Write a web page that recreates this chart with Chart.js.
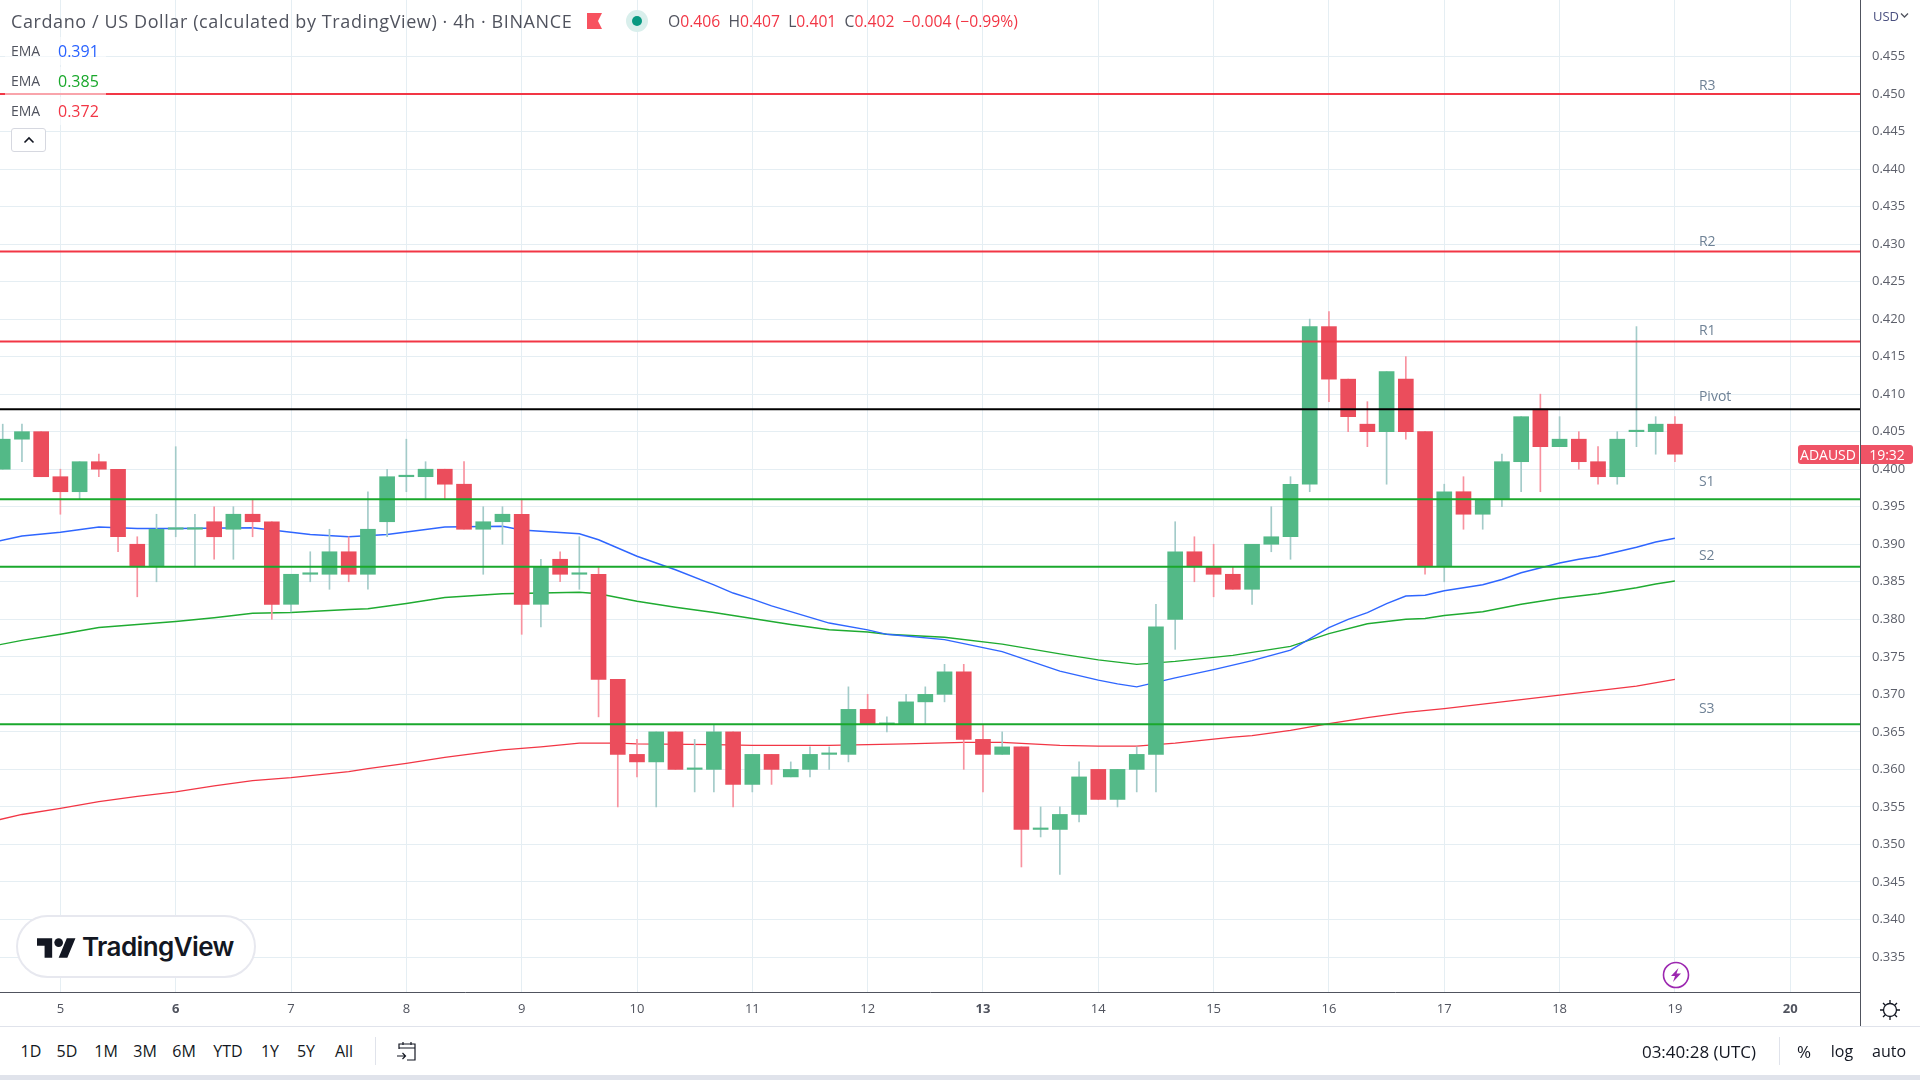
<!DOCTYPE HTML>
<html>
<head>
    <title>Cardano / US Dollar - 4h</title>
    <meta charset="utf-8" />
    <script src="https://cdn.jsdelivr.net/npm/chart.js"></script>
    <style>
        html, body { margin: 0; padding: 0; background: #fff; }
        body { width: 1920px; height: 1080px; position: relative; overflow: hidden; font-family: "Open Sans", sans-serif; color: #131722; }
        #grafico { position: absolute; left: 0; top: 0; }
        .txt { position: absolute; white-space: nowrap; line-height: 1; }
        .c { transform: translate(-50%, -50%); }
        .m { transform: translateY(-50%); }
        .rojo { color: #f23645; }
        .gris { color: #50535e; }
        .fila { position: absolute; left: 5px; width: 101px; height: 28px; background: rgba(255,255,255,0.55); }
    </style>
</head>
<body>
    <canvas id="grafico" width="1920" height="1026"></canvas>

    <!-- Header -->
    <div class="txt m gris" style="left:11px;top:21px;font-size:18px;letter-spacing:0.6px;">Cardano / US Dollar (calculated by TradingView) · 4h · BINANCE</div>
    <svg style="position:absolute;left:587px;top:13px" width="15" height="16"><path d="M0 0H15L11 8L15 16H0Z" fill="#f7525f"/></svg>
    <svg style="position:absolute;left:626px;top:10px" width="22" height="22"><circle cx="11" cy="11" r="11" fill="#d9efec"/><circle cx="11" cy="11" r="5" fill="#089981"/></svg>
    <div class="txt m" style="left:668px;top:22px;font-size:15.7px;">
        <span class="gris">O</span><span class="rojo">0.406</span>&nbsp;
        <span class="gris">H</span><span class="rojo">0.407</span>&nbsp;
        <span class="gris">L</span><span class="rojo">0.401</span>&nbsp;
        <span class="gris">C</span><span class="rojo">0.402</span>&nbsp;
        <span class="rojo">−0.004 (−0.99%)</span>
    </div>

    <!-- EMA legend -->
    <div class="fila" style="top:37px"></div>
    <div class="fila" style="top:67px"></div>
    <div class="fila" style="top:97px"></div>
    <div class="txt m gris" style="left:11px;top:51px;font-size:14px;">EMA</div>
    <div class="txt m" style="left:58px;top:51px;font-size:16px;color:#2962ff;">0.391</div>
    <div class="txt m gris" style="left:11px;top:81px;font-size:14px;">EMA</div>
    <div class="txt m" style="left:58px;top:81px;font-size:16px;color:#1aa82c;">0.385</div>
    <div class="txt m gris" style="left:11px;top:111px;font-size:14px;">EMA</div>
    <div class="txt m rojo" style="left:58px;top:111px;font-size:16px;">0.372</div>
    <div style="position:absolute;left:11px;top:128px;width:35px;height:24px;background:#fff;border:1px solid #d6d8e0;border-radius:3px;box-sizing:border-box;"></div>
    <svg style="position:absolute;left:23px;top:136px" width="12" height="8"><path d="M1.5 6.5L6 2L10.5 6.5" fill="none" stroke="#131722" stroke-width="1.6"/></svg>

    <!-- Currency -->
    <div class="txt m" style="left:1873px;top:16px;font-size:13px;color:#4a5080;">USD</div>
    <svg style="position:absolute;left:1900px;top:12px" width="9" height="7"><path d="M1 1.5L4.5 5L8 1.5" fill="none" stroke="#50535e" stroke-width="1.3"/></svg>

    <!-- Price label -->
    <div style="position:absolute;left:1798px;top:445px;width:61px;height:19px;background:#ef5366;border-radius:3px 0 0 3px;"></div>
    <div style="position:absolute;left:1860px;top:445px;width:53px;height:19px;background:#ef5366;border-radius:0 3px 3px 0;"></div>
    <div class="txt c" style="left:1828px;top:455px;font-size:14px;color:#fff;">ADAUSD</div>
    <div class="txt c" style="left:1887px;top:455px;font-size:14px;color:#fff;">19:32</div>

    <!-- Lightning -->
    <svg style="position:absolute;left:1662px;top:961px" width="28" height="28">
        <circle cx="14" cy="14" r="12.5" fill="#fff" stroke="#9c27b0" stroke-width="1.6"/>
        <path d="M16.5 7L9 15H13L11 21L19 12.5H14.5Z" fill="#9c27b0"/>
    </svg>

    <!-- TradingView logo -->
    <div style="position:absolute;left:16px;top:915px;width:240px;height:63px;background:#fff;border:2px solid #e7e8ef;border-radius:32px;box-sizing:border-box;"></div>
    <svg style="position:absolute;left:37px;top:938px" width="39" height="20" viewBox="0 4 36 18"><path d="M14 22H7V11H0V4h14v18zM28 22h-8l7.5-18h8L28 22z" fill="#131722"/><circle cx="20" cy="8" r="4" fill="#131722"/></svg>
    <div class="txt m" style="left:82px;top:947px;font-family:Inter,sans-serif;font-weight:600;font-size:26px;letter-spacing:-0.6px;color:#131722;">TradingView</div>

    <!-- Axis frame extras -->
    <div style="position:absolute;left:1860px;top:0;width:1px;height:1026px;background:#50535e;"></div>
    <svg style="position:absolute;left:1878px;top:998px" width="24" height="24"><circle cx="12" cy="12" r="6.5" fill="none" stroke="#131722" stroke-width="1.3"/><path d="M12 2v3M12 19v3M2 12h3M19 12h3M5 5l2.3 2.3M19 5l-2.3 2.3M5 19l2.3-2.3M19 19l-2.3-2.3" stroke="#131722" stroke-width="1.3"/></svg>

    <!-- Bottom toolbar -->
    <div style="position:absolute;left:0;top:1026px;width:1920px;height:1px;background:#e0e3eb;"></div>
    <div class="txt c" style="left:31px;top:1051px;font-size:16px;">1D</div>
    <div class="txt c" style="left:67px;top:1051px;font-size:16px;">5D</div>
    <div class="txt c" style="left:106px;top:1051px;font-size:16px;">1M</div>
    <div class="txt c" style="left:145px;top:1051px;font-size:16px;">3M</div>
    <div class="txt c" style="left:184px;top:1051px;font-size:16px;">6M</div>
    <div class="txt c" style="left:228px;top:1051px;font-size:16px;">YTD</div>
    <div class="txt c" style="left:270px;top:1051px;font-size:16px;">1Y</div>
    <div class="txt c" style="left:306px;top:1051px;font-size:16px;">5Y</div>
    <div class="txt c" style="left:344px;top:1051px;font-size:16px;">All</div>
    <div style="position:absolute;left:375px;top:1037px;width:1px;height:28px;background:#e0e3eb;"></div>
    <svg style="position:absolute;left:396px;top:1040px" width="22" height="22"><path d="M3 9V4H19V20H11M3 8H19M7 2V5M15 2V5M1 16H9M6.5 13L9.5 16L6.5 19" fill="none" stroke="#131722" stroke-width="1.2"/></svg>
    <div class="txt c" style="left:1699px;top:1051px;font-size:17px;">03:40:28 (UTC)</div>
    <div style="position:absolute;left:1779px;top:1037px;width:1px;height:28px;background:#e0e3eb;"></div>
    <div class="txt c" style="left:1804px;top:1051px;font-size:17px;">%</div>
    <div class="txt c" style="left:1842px;top:1051px;font-size:16px;">log</div>
    <div class="txt c" style="left:1889px;top:1051px;font-size:16px;">auto</div>
    <div style="position:absolute;left:0;top:1075px;width:1920px;height:5px;background:#e0e3eb;"></div>

    <script>
        // Barras de 4h, 0 = dia 5 a las 00:00
        const bars = [-3,-2,-1,0,1,2,3,4,5,6,7,8,9,10,11,12,13,14,15,16,17,18,19,20,21,22,23,24,25,26,27,28,29,30,31,32,33,34,35,36,37,38,39,40,41,42,43,44,45,46,47,48,49,50,51,52,53,54,55,56,57,58,59,60,61,62,63,64,65,66,67,68,69,70,71,72,73,74,75,76,77,78,79,80,81,82,83,84];
        const opens = [.400,.404,.405,.399,.397,.401,.400,.390,.387,.392,.392,.393,.392,.394,.393,.382,.386,.386,.389,.386,.393,.399,.399,.400,.398,.392,.393,.394,.382,.388,.386,.386,.372,.362,.361,.365,.360,.360,.365,.358,.362,.359,.360,.362,.362,.368,.366,.366,.369,.370,.373,.364,.362,.363,.352,.352,.354,.360,.356,.360,.362,.380,.389,.387,.386,.384,.390,.391,.398,.419,.412,.406,.405,.412,.405,.387,.397,.394,.396,.401,.408,.403,.404,.401,.399,.405,.405,.406];
        const highs = [.406,.406,.405,.400,.401,.402,.400,.391,.394,.403,.394,.395,.395,.396,.393,.386,.389,.392,.391,.397,.400,.404,.401,.400,.401,.395,.395,.396,.388,.389,.391,.387,.372,.364,.365,.365,.364,.366,.365,.362,.362,.361,.363,.363,.371,.370,.367,.370,.371,.374,.374,.366,.365,.363,.355,.355,.361,.360,.360,.363,.382,.393,.391,.390,.387,.390,.395,.399,.420,.421,.412,.409,.413,.415,.405,.398,.399,.396,.402,.407,.410,.407,.405,.403,.405,.419,.407,.407];
        const lows = [.400,.401,.399,.394,.396,.399,.389,.383,.385,.391,.387,.388,.388,.391,.380,.381,.385,.384,.385,.384,.391,.397,.396,.396,.392,.386,.390,.378,.379,.385,.384,.367,.355,.359,.355,.360,.357,.357,.355,.357,.358,.359,.359,.360,.361,.366,.365,.366,.366,.369,.360,.357,.362,.347,.351,.346,.353,.356,.355,.357,.357,.376,.385,.383,.384,.382,.389,.388,.397,.409,.405,.403,.398,.404,.386,.385,.392,.392,.395,.397,.397,.403,.400,.398,.398,.403,.402,.401];
        const closes = [.404,.405,.399,.397,.401,.400,.391,.387,.392,.392,.392,.391,.394,.393,.382,.386,.386,.389,.386,.392,.399,.399,.400,.398,.392,.393,.394,.382,.387,.386,.386,.372,.362,.361,.365,.360,.360,.365,.358,.362,.360,.360,.362,.362,.368,.366,.366,.369,.370,.373,.364,.362,.363,.352,.352,.354,.359,.356,.360,.362,.379,.389,.387,.386,.384,.390,.391,.398,.419,.412,.407,.405,.413,.405,.387,.397,.394,.396,.401,.407,.403,.404,.401,.399,.404,.405,.406,.402];

        // EMAs
        const emaBlueBars = [-4,-2,0,2,4,6,10,13,15,17,20,23,24,27,28,30,32,34,35,36,37,40,42,43,46,49,52,54,55,56,58,60,62,64,66,67,68,69,70,71,72,74,75,76,78,79,80,81,82,83,84];
        const emaBlue = [.3900,.3911,.3916,.3923,.3921,.3921,.3922,.3913,.3910,.3913,.3923,.3924,.3919,.3914,.3906,.3884,.3866,.3846,.3835,.3827,.3818,.3795,.3786,.3780,.3773,.3757,.3731,.3719,.3714,.3710,.3722,.3733,.3745,.3759,.3789,.3800,.3809,.3821,.3831,.3832,.3838,.3846,.3853,.3862,.3875,.3880,.3884,.3890,.3896,.3903,.3908];
        const emaGreenBars = [-4,-2,0,2,4,6,8,10,12,15,16,18,20,23,25,27,28,30,32,34,36,38,40,42,43,46,49,52,54,55,56,58,61,64,66,68,70,71,72,74,75,76,77,78,79,80,81,82,83,84];
        const emaGreen = [.3762,.3772,.3780,.3789,.3793,.3797,.3802,.3808,.3809,.3813,.3814,.3821,.3829,.3834,.3835,.3836,.3834,.3824,.3816,.3809,.3801,.3793,.3786,.3783,.3780,.3776,.3767,.3754,.3746,.3743,.3740,.3744,.3752,.3764,.3781,.3794,.3800,.3801,.3805,.3810,.3815,.3820,.3824,.3828,.3831,.3834,.3838,.3842,.3847,.3851];
        const emaRedBars = [-4,-2,0,2,4,6,8,10,12,15,16,18,20,23,25,27,29,30,34,36,40,44,47,49,52,54,56,58,61,62,64,66,68,70,72,74,76,78,80,82,84];
        const emaRed = [.3528,.3540,.3548,.3557,.3564,.3570,.3578,.3585,.3589,.3597,.3601,.3608,.3616,.3626,.3630,.3635,.3635,.3634,.3633,.3632,.3632,.3634,.3636,.3636,.3632,.3631,.3631,.3635,.3643,.3645,.3652,.3661,.3669,.3676,.3681,.3687,.3693,.3699,.3705,.3711,.3720];

        // Pivotes
        const levelNames = ['R3', 'R2', 'R1', 'Pivot', 'S1', 'S2', 'S3'];
        const levelValues = [.450, .429, .417, .408, .396, .387, .366];
        const levelColors = ['#f23645', '#f23645', '#f23645', '#000000', '#1aa82c', '#1aa82c', '#1aa82c'];
        const levelTextGap = [8, 10, 11, 12, 17, 11, 15];

        // Ejes
        const priceTicks = [.335,.340,.345,.350,.355,.360,.365,.370,.375,.380,.385,.390,.395,.400,.405,.410,.415,.420,.425,.430,.435,.440,.445,.450,.455];
        const dayTicks = [0,6,12,18,24,30,36,42,48,54,60,66,72,78,84,90];
        const dayLabels = ['5','6','7','8','9','10','11','12','13','14','15','16','17','18','19','20'];
        const boldDays = ['6', '13', '20'];

        const xMin = -3.142, xMax = 93.63, yMin = .33034, yMax = .46252;
        const verde = '#53b987', rojo = '#eb4d5c';
        const verdeMecha = '#a3cbc9', rojoMecha = '#f8929f';

        const isUp = bars.map((b, i) => closes[i] >= opens[i]);

        function lineaEma(barras, valores, color) {
            return {
                type: 'line', order: 3,
                data: barras.map((b, i) => ({ x: b, y: valores[i] })),
                borderColor: color, borderWidth: 1.4,
                pointRadius: 0, tension: 0, fill: false
            };
        }

        const datasets = [
            lineaEma(emaBlueBars, emaBlue, '#2f66ff'),
            lineaEma(emaGreenBars, emaGreen, '#1fab31'),
            lineaEma(emaRedBars, emaRed, '#f23645'),
            // Mechas
            {
                type: 'bar', order: 2, grouped: false,
                data: bars.map((b, i) => ({ x: b, y: [lows[i], highs[i]] })),
                backgroundColor: isUp.map(u => u ? verdeMecha : rojoMecha),
                barThickness: 1
            },
            // Cuerpos
            {
                type: 'bar', order: 1, grouped: false,
                data: bars.map((b, i) => ({ x: b, y: [opens[i], closes[i]] })),
                backgroundColor: isUp.map(u => u ? verde : rojo),
                barThickness: 15, minBarLength: 1.5
            }
        ];

        levelValues.forEach(function (v, i) {
            datasets.push({
                type: 'line', order: 0,
                data: [{ x: xMin, y: v }, { x: xMax, y: v }],
                borderColor: levelColors[i], borderWidth: 2,
                pointRadius: 0, fill: false
            });
        });

        // Nombres de los niveles sobre cada linea
        const levelLabels = {
            id: 'levelLabels',
            afterDatasetsDraw(chart) {
                const ctx = chart.ctx;
                ctx.save();
                ctx.font = '14px "Open Sans"';
                ctx.fillStyle = '#6f8296';
                ctx.textBaseline = 'middle';
                levelNames.forEach(function (n, i) {
                    const y = chart.scales.y.getPixelForValue(levelValues[i]);
                    ctx.fillText(n, chart.scales.x.getPixelForValue(85.25), y - levelTextGap[i]);
                });
                ctx.restore();
            }
        };

        new Chart(document.getElementById('grafico').getContext('2d'), {
            type: 'bar',
            data: { datasets: datasets },
            plugins: [levelLabels],
            options: {
                responsive: false,
                animation: false,
                devicePixelRatio: 1,
                layout: { padding: 0 },
                plugins: { legend: { display: false }, tooltip: { enabled: false } },
                scales: {
                    x: {
                        type: 'linear', min: xMin, max: xMax, offset: false,
                        afterBuildTicks(scale) { scale.ticks = dayTicks.map(v => ({ value: v })); },
                        afterFit(scale) { scale.height = 34; scale.paddingLeft = 0; scale.paddingRight = 0; },
                        grid: { color: '#e5eef3', drawTicks: false, offset: false },
                        border: { color: '#50535e', width: 1 },
                        ticks: {
                            autoSkip: false, maxRotation: 0, padding: 9,
                            color: '#50535e',
                            font(c) {
                                const t = c.tick ? dayLabels[dayTicks.indexOf(c.tick.value)] : '';
                                return { family: '"Open Sans"', size: 13, weight: boldDays.includes(t) ? 'bold' : 'normal' };
                            },
                            callback(v) { return dayLabels[dayTicks.indexOf(v)]; }
                        }
                    },
                    y: {
                        position: 'right', min: yMin, max: yMax,
                        afterBuildTicks(scale) { scale.ticks = priceTicks.map(v => ({ value: v })); },
                        afterFit(scale) { scale.width = 60; scale.paddingTop = 0; scale.paddingBottom = 0; },
                        grid: { color: '#e5eef3', drawTicks: false },
                        border: { color: '#50535e', width: 1 },
                        ticks: {
                            autoSkip: false, padding: 12,
                            color: '#5d606b',
                            font: { family: '"Open Sans"', size: 13 },
                            callback(v) { return v.toFixed(3); }
                        }
                    }
                }
            }
        });
    </script>
</body>
</html>
